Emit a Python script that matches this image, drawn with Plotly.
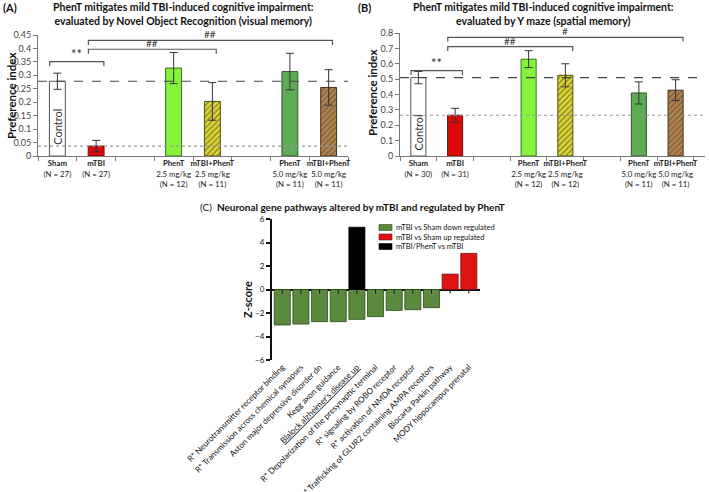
import plotly.graph_objects as go

W, H = 709, 492
FONT = "Lato"

# ---------------- data: panels A and B ----------------
groups = ["Sham", "mTBI", "PhenT", "mTBI+PhenT", "PhenT", "mTBI+PhenT"]
doses = ["", "", "2.5 mg/kg", "2.5 mg/kg", "5.0 mg/kg", "5.0 mg/kg"]
slots = [0, 1, 3, 4, 6, 7]
n_nor = [27, 27, 12, 11, 11, 11]
nor_mean = [0.278, 0.037, 0.327, 0.203, 0.314, 0.255]
nor_err = [0.030, 0.021, 0.058, 0.070, 0.068, 0.066]
n_ym = [30, 31, 12, 12, 11, 11]
ym_mean = [0.510, 0.265, 0.630, 0.525, 0.410, 0.428]
ym_err = [0.040, 0.045, 0.055, 0.075, 0.072, 0.068]

fill_colors = ["#ffffff", "#d80a0a", "#86f23c", "#e2dc2a", "#5faa55", "#b98448"]
hatch_shape = ["", "", "", "/", "", "/"]
hatch_fg = ["#ffffff", "#d80a0a", "#86f23c", "#7d7a10", "#5faa55", "#5c3c1c"]
outline = ["#555555", "#6a1010", "#3d6e22", "#50500e", "#2f5a2a", "#4a3018"]

# significance brackets: (from slot, to slot, height, label)
nor_brackets = [(-0.2, 1.2, 0.351, "**"), (0.8, 4.1, 0.397, "##"), (0.8, 7.1, 0.430, "##")]
ym_brackets = [(-0.2, 1.2, 0.555, "**"), (0.8, 4.2, 0.711, "##"), (0.8, 7.2, 0.772, "#")]

# ---------------- data: panel C ----------------
pathways = [
    "R* Neurotransmitter receptor binding",
    "R* Transmission across chemical synapses",
    "Aston major depressive disorder dn",
    "Kegg axon guidance",
    "<u>Blalock alzheimer's disease up</u>",
    "R* Depolarization of the presynaptic terminal",
    "R* signaling by ROBO receptor",
    "R* activation of NMDA receptor",
    "R* Trafficking of GLUR2 containing AMPA receptors",
    "Biocarta Parkin pathway",
    "MODY hippocampus prenatal",
]
z_down = [-3.02, -2.94, -2.74, -2.74, -2.54, -2.31, -1.78, -1.72, -1.55, None, None]
z_up = [None] * 9 + [1.31, 3.07]
z_phent = [None] * 4 + [5.3] + [None] * 6
c_series = [
    ("mTBI vs Sham down regulated", z_down, "#5b8a3e", "#2b4a1c"),
    ("mTBI vs Sham up regulated", z_up, "#e01212", "#701010"),
    ("mTBI/PhenT vs mTBI", z_phent, "#000000", "#000000"),
]


def px_x(p):
    return p / W


def px_y(p):
    return 1 - p / H


fig = go.Figure()

panels = [
    dict(xa="x", ya="y", mean=nor_mean, err=nor_err, n=n_nor, br=nor_brackets,
         xdom=[38, 348], xr=[-0.5, 7.5], ydom=[156, 35], yr=[0, 0.45], dt=0.05,
         leg=0.017, ctrl_y=0.11),
    dict(xa="x2", ya="y2", mean=ym_mean, err=ym_err, n=n_ym, br=ym_brackets,
         xdom=[400, 705], xr=[-0.5, 7.8], ydom=[156, 33], yr=[0, 0.8], dt=0.1,
         leg=0.028, ctrl_y=0.156),
]

shapes = []
annotations = []

for i, p in enumerate(panels):
    fig.add_trace(go.Bar(
        x=slots, y=p["mean"], xaxis=p["xa"], yaxis=p["ya"], width=0.41,
        marker=dict(color=fill_colors, line=dict(color=outline, width=1),
                    pattern=dict(shape=hatch_shape, fgcolor=hatch_fg, bgcolor=fill_colors,
                                 size=4, solidity=0.45)),
        error_y=dict(type="data", array=p["err"], color="#333333", thickness=1, width=4),
        showlegend=False,
    ))
    sfx = "" if i == 0 else "2"
    ticktext = []
    for g, d, n in zip(groups, doses, p["n"]):
        t = f"<b>{g}</b>"
        if d:
            t += f"<br>{d}"
        t += f"<br>(N = {n})"
        ticktext.append(t)
    fig.layout["xaxis" + sfx] = dict(
        domain=[px_x(p["xdom"][0]), px_x(p["xdom"][1])], range=p["xr"], anchor="y" + sfx,
        tickvals=slots, ticktext=ticktext, ticks="", tickangle=0, automargin=False,
        showline=True, linecolor="#777777",
        linewidth=1, showgrid=False, zeroline=False, tickfont=dict(size=7.8, color="#222222"),
        minor=dict(tick0=-0.5, dtick=1, ticks="outside", ticklen=4, tickcolor="#777777", showgrid=False),
    )
    fig.layout["yaxis" + sfx] = dict(
        domain=[px_y(p["ydom"][0]), px_y(p["ydom"][1])], range=p["yr"], anchor="x" + sfx,
        dtick=p["dt"], tick0=0, ticks="outside", ticklen=4, tickcolor="#777777", automargin=False,
        showline=True, linecolor="#777777", linewidth=1, showgrid=False, zeroline=False,
        tickfont=dict(size=9, color="#444444"),
    )
    # reference lines at Sham and mTBI means
    shapes.append(dict(type="line", xref=p["xa"] + " domain", yref=p["ya"], x0=0, x1=1,
                       y0=p["mean"][0], y1=p["mean"][0], line=dict(color="#444444", width=1.2, dash="dash")))
    shapes.append(dict(type="line", xref=p["xa"] + " domain", yref=p["ya"], x0=0, x1=1,
                       y0=p["mean"][1], y1=p["mean"][1], line=dict(color="#999999", width=1.2, dash="dot")))
    # brackets
    for x0, x1, yb, lab in p["br"]:
        shapes.append(dict(type="path", xref=p["xa"], yref=p["ya"],
                           path=f"M {x0},{yb - p['leg']} L {x0},{yb} L {x1},{yb} L {x1},{yb - p['leg']}",
                           line=dict(color="#555555", width=1.2)))
        annotations.append(dict(x=(x0 + x1) / 2, y=yb, xref=p["xa"], yref=p["ya"], text=lab,
                                showarrow=False, yanchor="bottom", yshift=-2,
                                font=dict(size=13 if "*" in lab else 10, color="#333333")))
    annotations.append(dict(x=slots[0], y=p["ctrl_y"], xref=p["xa"], yref=p["ya"], text="Control",
                            textangle=-90, showarrow=False, font=dict(size=11, color="#333333")))

# titles / labels for A and B
annotations += [
    dict(x=px_x(10), y=px_y(7), text="<b>(A)</b>", showarrow=False, font=dict(size=11)),
    dict(x=px_x(183), y=px_y(-1), yanchor="top", text="<b>PhenT mitigates mild TBI-induced cognitive impairment:<br>evaluated by Novel Object Recognition (visual memory)</b>",
         showarrow=False, font=dict(size=10.5)),
    dict(x=px_x(12), y=px_y(96), text="<b>Preference index</b>", textangle=-90, showarrow=False, font=dict(size=11.5)),
    dict(x=px_x(364), y=px_y(7), text="<b>(B)</b>", showarrow=False, font=dict(size=11)),
    dict(x=px_x(543), y=px_y(-1), yanchor="top", text="<b>PhenT mitigates mild TBI-induced cognitive impairment:<br>evaluated by Y maze (spatial memory)</b>",
         showarrow=False, font=dict(size=10.5)),
    dict(x=px_x(373), y=px_y(93), text="<b>Preference index</b>", textangle=-90, showarrow=False, font=dict(size=11.5)),
]

# ---------------- panel C ----------------
cats = list(range(len(pathways)))
for name, vals, col, lc in c_series:
    fig.add_trace(go.Bar(x=cats, y=vals, xaxis="x3", yaxis="y3", width=0.86, name=name,
                         marker=dict(color=col, line=dict(color=lc, width=0.8)), showlegend=False))

fig.layout["xaxis3"] = dict(
    domain=[px_x(272), px_x(480)], range=[-0.55, 10.6], anchor="y3", tickvals=cats, ticktext=pathways,
    tickangle=-45, ticks="", showline=False, showgrid=False, zeroline=False, automargin=False,
    tickfont=dict(size=8.2, color="#111111"),
)
fig.layout["yaxis3"] = dict(
    domain=[px_y(360), px_y(219)], range=[-6, 6], anchor="x3", dtick=2, ticks="outside",
    ticklen=4, tickwidth=1.5, tickcolor="#111111", showline=True, linecolor="#111111", linewidth=2,
    showgrid=False, zeroline=True, zerolinecolor="#111111", zerolinewidth=1.5, automargin=False,
    tickfont=dict(size=8, color="#111111"),
)
for c in cats:
    shapes.append(dict(type="line", xref="x3", yref="y3", ysizemode="pixel", yanchor=0,
                       x0=c, x1=c, y0=0, y1=-4, line=dict(color="#111111", width=1)))

annotations += [
    dict(x=px_x(352), y=px_y(207), text="(C)  <b>Neuronal gene pathways altered by mTBI and regulated by PhenT</b>",
         showarrow=False, font=dict(size=10)),
    dict(x=px_x(247), y=px_y(300), text="<b>Z-score</b>", textangle=-90, showarrow=False, font=dict(size=11)),
]
# manual legend
for k, (name, vals, col, lc) in enumerate(c_series):
    yc = 227.5 + 9.5 * k
    shapes.append(dict(type="rect", xref="paper", yref="paper", x0=px_x(379), x1=px_x(392),
                       y0=px_y(yc + 3), y1=px_y(yc - 3), fillcolor=col, line=dict(color=lc, width=0.6)))
    annotations.append(dict(x=px_x(394), y=px_y(yc), xanchor="left", text=name, showarrow=False,
                            font=dict(size=7.5, color="#111111")))

for a in annotations:
    a.setdefault("xref", "paper")
    a.setdefault("yref", "paper")
    a.setdefault("xanchor", "center")
    a.setdefault("yanchor", "middle")

fig.update_layout(
    width=W, height=H, margin=dict(l=0, r=0, t=0, b=0), paper_bgcolor="white", plot_bgcolor="white",
    font=dict(family=FONT, color="#111111"), shapes=shapes, annotations=annotations,
    barmode="overlay", showlegend=False,
)

fig.write_html("out.html", config={"displayModeBar": False},
               post_script="document.body.style.margin='0px';document.body.style.overflow='hidden';")
